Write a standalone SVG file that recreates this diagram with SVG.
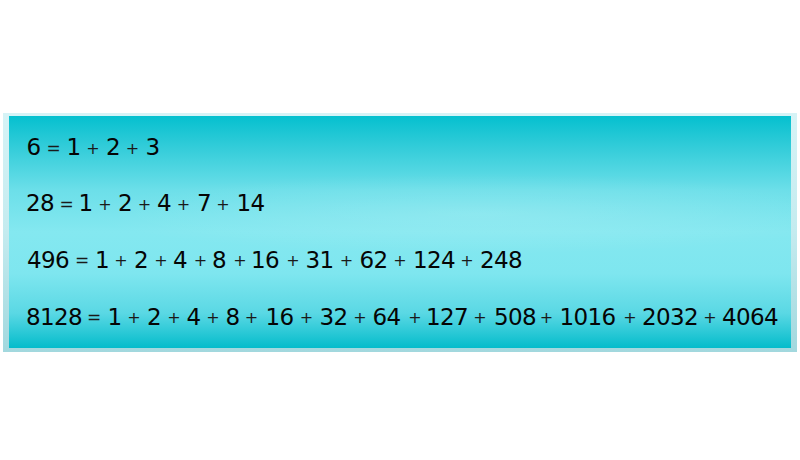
<svg xmlns="http://www.w3.org/2000/svg" width="800" height="460" viewBox="0 0 800 460">
<defs>
<linearGradient id="frame" x1="0" y1="0" x2="0" y2="1">
<stop offset="0" stop-color="#d6f3f6"/>
<stop offset="0.5" stop-color="#c4ebef"/>
<stop offset="1" stop-color="#a2d8de"/>
</linearGradient>
<linearGradient id="panel" x1="0" y1="0" x2="0" y2="1">
<stop offset="0" stop-color="#05c0cf"/>
<stop offset="0.12" stop-color="#2ecbd8"/>
<stop offset="0.32" stop-color="#6cdfe9"/>
<stop offset="0.5" stop-color="#84e8f0"/>
<stop offset="0.68" stop-color="#7ee6ef"/>
<stop offset="0.85" stop-color="#5ad8e4"/>
<stop offset="1" stop-color="#04bccb"/>
</linearGradient>
<radialGradient id="glow" cx="0.6" cy="0.42" r="0.5" gradientTransform="translate(0.6 0.42) scale(1 0.35) translate(-0.6 -0.42)">
<stop offset="0" stop-color="#ffffff" stop-opacity="0.15"/>
<stop offset="1" stop-color="#ffffff" stop-opacity="0"/>
</radialGradient>
</defs>
<style>
.n{font-family:"DejaVu Sans","Liberation Sans",sans-serif;font-size:23px;fill:#050505;text-anchor:middle;letter-spacing:-0.6px}
.p{font-family:"DejaVu Sans","Liberation Sans",sans-serif;font-size:16px;fill:#1a1a1a;text-anchor:middle}
.e{font-family:"DejaVu Sans","Liberation Sans",sans-serif;font-size:17px;fill:#1a1a1a;text-anchor:middle}
</style>
<g id="panel-box">
<rect x="3" y="113" width="794" height="239" fill="url(#frame)"/>
<rect x="9" y="116" width="782" height="232" fill="url(#panel)"/>
<rect x="9" y="116" width="782" height="232" fill="url(#glow)"/>
</g>
<g id="line-6">
<text class="n" x="33.5" y="155">6</text>
<text class="e" x="53.5" y="153.5">=</text>
<text class="n" x="73.5" y="155">1</text>
<text class="p" x="93" y="153.5">+</text>
<text class="n" x="113" y="155">2</text>
<text class="p" x="132.5" y="153.5">+</text>
<text class="n" x="152.5" y="155">3</text>
</g>
<g id="line-28">
<text class="n" x="40" y="211">28</text>
<text class="e" x="66.5" y="209.5">=</text>
<text class="n" x="85.5" y="211">1</text>
<text class="p" x="105" y="209.5">+</text>
<text class="n" x="125" y="211">2</text>
<text class="p" x="144.5" y="209.5">+</text>
<text class="n" x="164" y="211">4</text>
<text class="p" x="183.5" y="209.5">+</text>
<text class="n" x="204" y="211">7</text>
<text class="p" x="223" y="209.5">+</text>
<text class="n" x="250.5" y="211">14</text>
</g>
<g id="line-496">
<text class="n" x="48" y="267.5">496</text>
<text class="e" x="82" y="266">=</text>
<text class="n" x="102" y="267.5">1</text>
<text class="p" x="121" y="266">+</text>
<text class="n" x="141" y="267.5">2</text>
<text class="p" x="161" y="266">+</text>
<text class="n" x="180" y="267.5">4</text>
<text class="p" x="200.5" y="266">+</text>
<text class="n" x="219" y="267.5">8</text>
<text class="p" x="240" y="266">+</text>
<text class="n" x="265" y="267.5">16</text>
<text class="p" x="293" y="266">+</text>
<text class="n" x="319.5" y="267.5">31</text>
<text class="p" x="346.5" y="266">+</text>
<text class="n" x="373.5" y="267.5">62</text>
<text class="p" x="400" y="266">+</text>
<text class="n" x="434" y="267.5">124</text>
<text class="p" x="467" y="266">+</text>
<text class="n" x="501" y="267.5">248</text>
</g>
<g id="line-8128">
<text class="n" x="54" y="324.5">8128</text>
<text class="e" x="94" y="323">=</text>
<text class="n" x="114.5" y="324.5">1</text>
<text class="p" x="134" y="323">+</text>
<text class="n" x="154" y="324.5">2</text>
<text class="p" x="174" y="323">+</text>
<text class="n" x="193.5" y="324.5">4</text>
<text class="p" x="213" y="323">+</text>
<text class="n" x="232.5" y="324.5">8</text>
<text class="p" x="251.5" y="323">+</text>
<text class="n" x="279.5" y="324.5">16</text>
<text class="p" x="306.5" y="323">+</text>
<text class="n" x="333.5" y="324.5">32</text>
<text class="p" x="360" y="323">+</text>
<text class="n" x="386.5" y="324.5">64</text>
<text class="p" x="415" y="323">+</text>
<text class="n" x="447" y="324.5">127</text>
<text class="p" x="480" y="323">+</text>
<text class="n" x="515" y="324.5">508</text>
<text class="p" x="546.5" y="323">+</text>
<text class="n" x="587.5" y="324.5">1016</text>
<text class="p" x="630" y="323">+</text>
<text class="n" x="670" y="324.5">2032</text>
<text class="p" x="710" y="323">+</text>
<text class="n" x="750" y="324.5">4064</text>
</g>
</svg>
